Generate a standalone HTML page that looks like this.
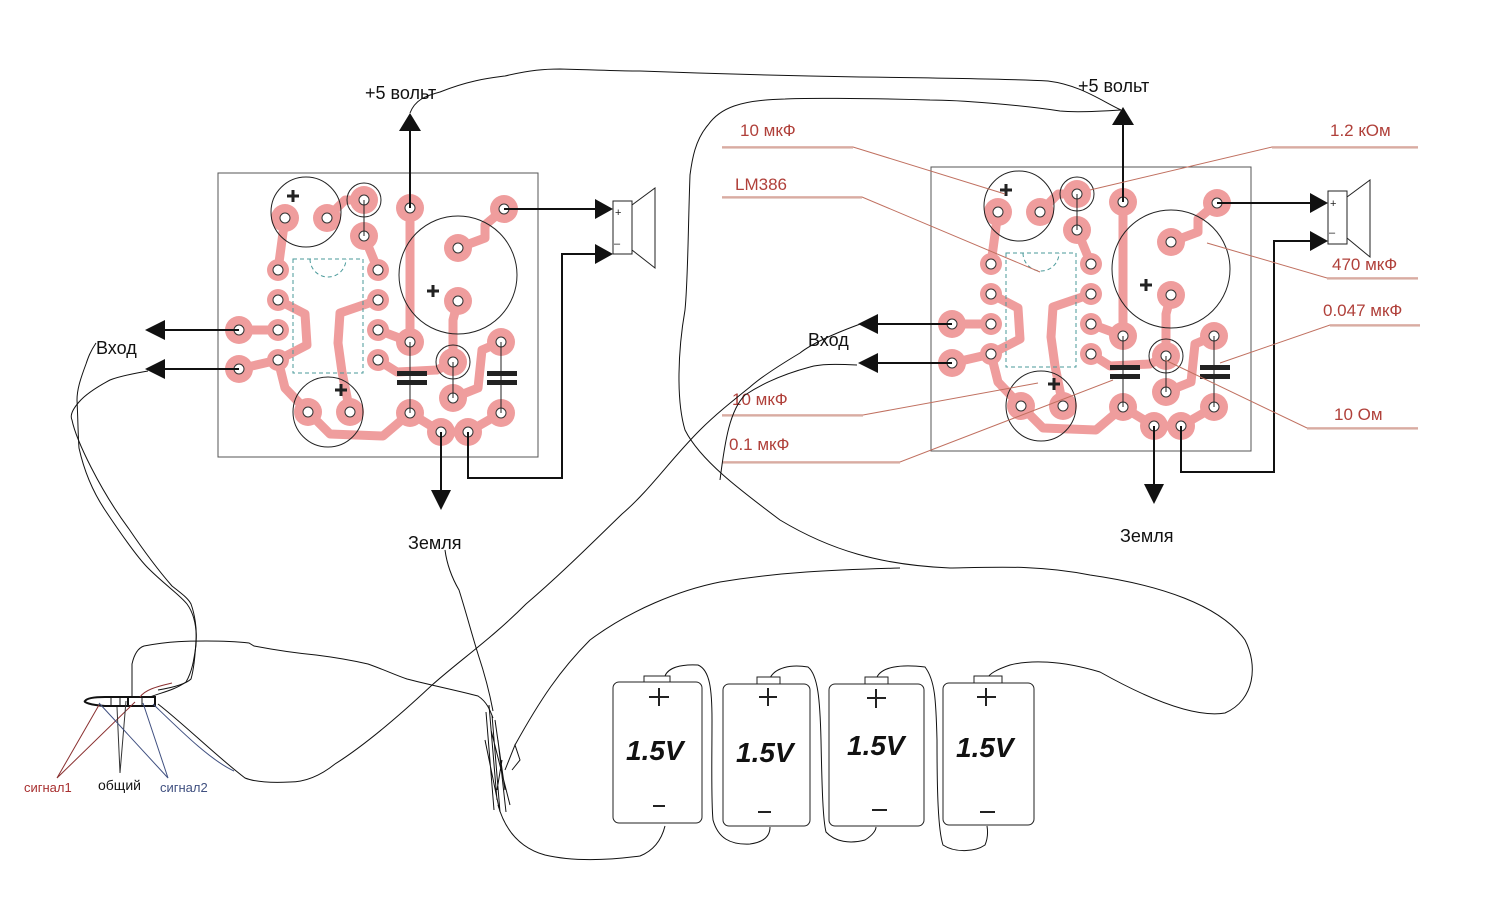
<!DOCTYPE html>
<html><head><meta charset="utf-8"><style>
html,body{margin:0;padding:0;background:#fff;}
svg{display:block;}
text{font-family:"Liberation Sans","DejaVu Sans",sans-serif;}
</style></head><body>
<svg width="1500" height="914" viewBox="0 0 1500 914" xmlns="http://www.w3.org/2000/svg">
<defs>
<g id="board">
  <rect x="218" y="173" width="320" height="284" fill="none" stroke="#555" stroke-width="1"/>
  <g fill="none" stroke="#ef9d9d" stroke-width="9" stroke-linejoin="round" stroke-linecap="round">
    <polyline points="285,218 278,270"/>
    <polyline points="327,218 345,200 364,200"/>
    <polyline points="364,236 378,270"/>
    <polyline points="410,208 410,342"/>
    <polyline points="504,209 485,225 485,238 458,248"/>
    <polyline points="458,301 453,320 453,362"/>
    <polyline points="278,300 305,314 307,345 278,360"/>
    <polyline points="239,330 278,330"/>
    <polyline points="239,369 278,360"/>
    <polyline points="278,360 285,388 308,412"/>
    <polyline points="378,300 340,313 338,343 342,372 350,412"/>
    <polyline points="378,330 410,342"/>
    <polyline points="378,360 397,372 437,370 453,362"/>
    <polyline points="453,398 478,388 482,350 501,342"/>
    <polyline points="308,412 330,434 383,436 410,413"/>
    <polyline points="410,413 441,432 468,432 501,413"/>
  </g>
  <g fill="#ef9d9d">
    <circle cx="285" cy="218" r="14"/><circle cx="327" cy="218" r="14"/>
    <circle cx="364" cy="200" r="14"/><circle cx="364" cy="236" r="14"/>
    <circle cx="410" cy="208" r="14"/><circle cx="504" cy="209" r="14"/>
    <circle cx="458" cy="248" r="14"/><circle cx="458" cy="301" r="14"/>
    <circle cx="278" cy="270" r="11"/><circle cx="378" cy="270" r="11"/>
    <circle cx="278" cy="300" r="11"/><circle cx="378" cy="300" r="11"/>
    <circle cx="278" cy="330" r="11"/><circle cx="378" cy="330" r="11"/>
    <circle cx="278" cy="360" r="11"/><circle cx="378" cy="360" r="11"/>
    <circle cx="239" cy="330" r="14"/><circle cx="239" cy="369" r="14"/>
    <circle cx="410" cy="342" r="14"/><circle cx="453" cy="362" r="14"/>
    <circle cx="453" cy="398" r="14"/><circle cx="501" cy="342" r="14"/>
    <circle cx="501" cy="413" r="14"/><circle cx="410" cy="413" r="14"/>
    <circle cx="441" cy="432" r="14"/><circle cx="468" cy="432" r="14"/>
    <circle cx="308" cy="412" r="14"/><circle cx="350" cy="412" r="14"/>
  </g>
  <g fill="#fff" stroke="#333" stroke-width="1">
    <circle cx="285" cy="218" r="5"/><circle cx="327" cy="218" r="5"/>
    <circle cx="364" cy="200" r="5"/><circle cx="364" cy="236" r="5"/>
    <circle cx="410" cy="208" r="5"/><circle cx="504" cy="209" r="5"/>
    <circle cx="458" cy="248" r="5"/><circle cx="458" cy="301" r="5"/>
    <circle cx="278" cy="270" r="5"/><circle cx="378" cy="270" r="5"/>
    <circle cx="278" cy="300" r="5"/><circle cx="378" cy="300" r="5"/>
    <circle cx="278" cy="330" r="5"/><circle cx="378" cy="330" r="5"/>
    <circle cx="278" cy="360" r="5"/><circle cx="378" cy="360" r="5"/>
    <circle cx="239" cy="330" r="5"/><circle cx="239" cy="369" r="5"/>
    <circle cx="410" cy="342" r="5"/><circle cx="453" cy="362" r="5"/>
    <circle cx="453" cy="398" r="5"/><circle cx="501" cy="342" r="5"/>
    <circle cx="501" cy="413" r="5"/><circle cx="410" cy="413" r="5"/>
    <circle cx="441" cy="432" r="5"/><circle cx="468" cy="432" r="5"/>
    <circle cx="308" cy="412" r="5"/><circle cx="350" cy="412" r="5"/>
  </g>
  <g fill="none" stroke="#222" stroke-width="1">
    <circle cx="306" cy="212" r="35"/>
    <circle cx="364" cy="200" r="17"/>
    <circle cx="458" cy="275" r="59"/>
    <circle cx="453" cy="362" r="17"/>
    <circle cx="328" cy="412" r="35"/>
    <line x1="364" y1="200" x2="364" y2="236"/>
    <line x1="410" y1="342" x2="410" y2="413"/>
    <line x1="453" y1="362" x2="453" y2="398"/>
    <line x1="501" y1="342" x2="501" y2="413"/>
  </g>
  <rect x="293" y="259" width="70" height="114" fill="none" stroke="#4a9a9a" stroke-width="1" stroke-dasharray="4,3"/>
  <path d="M310,259 A18,18 0 0 0 346,259" fill="none" stroke="#4a9a9a" stroke-width="1" stroke-dasharray="4,3"/>
  <g fill="#222">
    <rect x="397" y="371" width="30" height="5"/><rect x="397" y="380" width="30" height="5"/>
    <rect x="487" y="371" width="30" height="5"/><rect x="487" y="380" width="30" height="5"/>
  </g>
  <g stroke="#222" stroke-width="3">
    <line x1="287" y1="196" x2="299" y2="196"/><line x1="293" y1="190" x2="293" y2="202"/>
    <line x1="427" y1="291" x2="439" y2="291"/><line x1="433" y1="285" x2="433" y2="297"/>
    <line x1="335" y1="390" x2="347" y2="390"/><line x1="341" y1="384" x2="341" y2="396"/>
  </g>
  <line x1="410" y1="208" x2="410" y2="128" stroke="#111" stroke-width="2"/>
  <polygon points="410,113 399,131 421,131" fill="#111"/>
  <line x1="441" y1="432" x2="441" y2="495" stroke="#111" stroke-width="2"/>
  <polygon points="441,510 431,490 451,490" fill="#111"/>
  <line x1="239" y1="330" x2="160" y2="330" stroke="#111" stroke-width="2"/>
  <polygon points="145,330 165,320 165,340" fill="#111"/>
  <line x1="239" y1="369" x2="160" y2="369" stroke="#111" stroke-width="2"/>
  <polygon points="145,369 165,359 165,379" fill="#111"/>
</g>
</defs>

<use href="#board"/>
<use href="#board" transform="translate(713,-6)"/>

<g stroke="#111" stroke-width="2" fill="none">
  <line x1="504" y1="209" x2="598" y2="209"/>
  <polyline points="468,432 468,478 562,478 562,254 598,254"/>
  <line x1="1217" y1="203" x2="1312" y2="203"/>
  <polyline points="1181,426 1181,472 1274,472 1274,241 1312,241"/>
</g>
<g fill="#111">
  <polygon points="613,209 595,199 595,219"/>
  <polygon points="613,254 595,244 595,264"/>
  <polygon points="1328,203 1310,193 1310,213"/>
  <polygon points="1328,241 1310,231 1310,251"/>
</g>
<g fill="#fff" stroke="#222" stroke-width="1">
  <rect x="613" y="201" width="19" height="53"/>
  <polyline points="632,205 655,188 655,268 632,250" fill="none"/>
  <rect x="1328" y="191" width="19" height="53"/>
  <polyline points="1347,197 1370,180 1370,257 1347,238" fill="none"/>
</g>
<g font-size="11" fill="#222">
  <text x="615" y="216">+</text><text x="614" y="247">–</text>
  <text x="1330" y="207">+</text><text x="1329" y="236">–</text>
</g>

<g font-size="18" fill="#111">
  <text x="365" y="99">+5 вольт</text>
  <text x="1078" y="92">+5 вольт</text>
  <text x="96" y="354">Вход</text>
  <text x="808" y="346">Вход</text>
  <text x="408" y="549">Земля</text>
  <text x="1120" y="542">Земля</text>
</g>

<g font-size="17" fill="#b0403a">
  <text x="740" y="136">10 мкФ</text>
  <text x="735" y="190">LM386</text>
  <text x="732" y="405">10 мкФ</text>
  <text x="729" y="450">0.1 мкФ</text>
  <text x="1330" y="136">1.2 кОм</text>
  <text x="1332" y="270">470 мкФ</text>
  <text x="1323" y="316">0.047 мкФ</text>
  <text x="1334" y="420">10 Ом</text>
</g>
<g fill="none" stroke="#c07060" stroke-width="1">
  <polyline points="722,147 853,147 1005,194"/>
  <polyline points="722,197 862,197 1040,272"/>
  <polyline points="722,415 863,415 1038,383"/>
  <polyline points="722,462 900,462 1113,380"/>
  <polyline points="1418,147 1272,147 1090,190"/>
  <polyline points="1418,278 1327,278 1207,243"/>
  <polyline points="1420,325 1330,325 1220,363"/>
  <polyline points="1418,428 1307,428 1165,360"/>
</g>
<g stroke="#e0c0b8" stroke-width="1.5">
  <line x1="722" y1="148" x2="853" y2="148"/><line x1="722" y1="198" x2="862" y2="198"/>
  <line x1="722" y1="416" x2="863" y2="416"/><line x1="722" y1="463" x2="900" y2="463"/>
  <line x1="1272" y1="148" x2="1418" y2="148"/><line x1="1327" y1="279" x2="1418" y2="279"/>
  <line x1="1330" y1="326" x2="1420" y2="326"/><line x1="1307" y1="429" x2="1418" y2="429"/>
</g>

<g fill="none" stroke="#111" stroke-width="1">
  <path d="M410,113 C415,100 425,96 440,92 C470,80 490,78 505,76 C530,70 545,69 560,69 C600,70 620,71 640,71 C720,74 800,76 860,77 C950,78 1010,79 1048,81 C1080,85 1100,100 1121,110"/>
  <path d="M1121,110 C1090,112 1070,112 1060,111 C1020,105 960,100 930,100 C860,98 800,98 785,99 C740,100 720,108 708,125 C695,140 692,160 690,175 C688,230 688,280 685,310 C678,350 676,400 685,430 C700,460 740,490 780,520 C830,550 880,565 950,568 C1000,567 1040,565 1090,575 C1160,585 1220,605 1245,640 C1258,665 1255,700 1225,713 C1195,718 1150,700 1100,672 C1060,660 1030,660 1010,665 C995,670 990,674 987,678"/>
  <path d="M863,323 C830,335 810,345 800,353 C780,365 760,378 750,387 C730,403 715,415 700,430 C670,460 650,490 622,514 C590,545 560,575 526,604 C490,640 460,660 431,686 C400,715 365,745 335,764 C320,776 305,782 290,782 C270,783 255,782 245,778 C215,755 185,725 158,704"/>
  <path d="M857,365 C835,364 820,364 810,367 C780,375 760,385 745,395 C730,410 725,440 720,480"/>
  <path d="M148,371 C125,375 115,378 110,380 C95,388 85,395 79,402 C72,410 70,416 72,420 C76,440 100,490 129,529 C150,560 165,578 172,586 C182,594 188,598 191,604 C195,615 197,630 196,640 C195,660 193,672 191,679 C185,685 170,688 158,690"/>
  <path d="M96,343 C90,352 88,358 86,364 C80,380 77,390 77,400 C78,420 78,435 79,448 C85,475 95,495 105,510 C125,540 140,560 148,568 C165,585 180,595 187,604 C195,615 197,630 196,645 C194,660 192,672 186,682 C175,690 160,693 150,697"/>
  <path d="M132,697 C132,685 132,675 132,664 C134,655 138,648 144,646 C170,641 190,641 206,641 C225,641 240,642 249,643 L254,646 C275,650 295,653 316,655 C340,658 355,661 368,664 C385,670 395,675 407,679 C430,685 455,690 478,696 C487,702 490,710 493,718"/>
  <path d="M445,550 C447,565 452,578 459,590 C466,612 472,635 478,654 C485,675 490,695 493,711"/>
  <path d="M515,745 C540,700 560,670 590,640 C630,610 680,590 720,582 C780,572 830,570 900,568"/>
  <path d="M486,712 L494,810 M489,705 L497,800 M492,715 L500,812 M495,720 L505,790 M491,730 L510,805 M498,740 L506,812 M502,760 L497,790 M505,770 L515,745 L520,760 L512,770 M485,740 L499,808"/>
  <path d="M498,805 C505,830 520,848 545,855 C575,862 610,860 640,856 C655,850 662,838 665,826"/>
  <path d="M665,676 C668,668 680,664 698,665 C710,670 712,690 712,720 C712,760 711,800 713,820 C718,838 730,845 750,844 C765,842 770,835 770,827"/>
  <path d="M770,678 C775,668 790,664 808,667 C818,675 820,700 821,740 C822,790 823,820 826,832 C835,842 850,844 865,840 C873,835 876,830 876,827"/>
  <path d="M877,677 C882,667 900,664 925,667 C935,680 936,700 937,740 C937,790 938,830 943,845 C955,853 975,852 985,845 C988,838 988,832 987,826"/>
</g>

<g fill="#fff" stroke="#222" stroke-width="1">
  <rect x="613" y="682" width="89" height="141" rx="6"/>
  <rect x="644" y="676" width="26" height="6"/>
  <rect x="723" y="684" width="87" height="142" rx="6"/>
  <rect x="757" y="677" width="23" height="7"/>
  <rect x="829" y="684" width="95" height="142" rx="6"/>
  <rect x="865" y="677" width="23" height="7"/>
  <rect x="943" y="683" width="91" height="142" rx="6"/>
  <rect x="974" y="676" width="28" height="7"/>
</g>
<g stroke="#222" stroke-width="2">
  <line x1="649" y1="697" x2="669" y2="697"/><line x1="659" y1="688" x2="659" y2="706"/>
  <line x1="653" y1="806" x2="665" y2="806"/>
  <line x1="759" y1="697" x2="777" y2="697"/><line x1="768" y1="688" x2="768" y2="706"/>
  <line x1="758" y1="812" x2="771" y2="812"/>
  <line x1="867" y1="698" x2="886" y2="698"/><line x1="876" y1="689" x2="876" y2="708"/>
  <line x1="872" y1="810" x2="887" y2="810"/>
  <line x1="977" y1="697" x2="996" y2="697"/><line x1="986" y1="688" x2="986" y2="706"/>
  <line x1="980" y1="812" x2="995" y2="812"/>
</g>
<g font-size="28" font-weight="bold" font-style="italic" fill="#111">
  <text x="626" y="760">1.5V</text>
  <text x="736" y="762">1.5V</text>
  <text x="847" y="755">1.5V</text>
  <text x="956" y="757">1.5V</text>
</g>

<g fill="none" stroke="#111" stroke-width="2">
  <path d="M105,697 L155,697 L155,706 L105,706 C90,705 83,702 85,701 C87,698 95,697 105,697 Z"/>
  <line x1="111" y1="697" x2="111" y2="706" stroke-width="1"/>
  <line x1="120" y1="697" x2="120" y2="706" stroke-width="1"/>
  <line x1="128" y1="697" x2="128" y2="706"/>
  <line x1="142" y1="697" x2="142" y2="706" stroke-width="1"/>
</g>
<g fill="none" stroke-width="1">
  <polyline points="99,705 57,778 135,702" stroke="#8a3030"/>
  <polyline points="117,707 120,773 126,701" stroke="#333"/>
  <polyline points="143,703 168,778 99,703" stroke="#405080"/>
  <path d="M153,704 C180,730 210,760 234,771" stroke="#405080"/>
  <path d="M140,697 C145,690 155,687 172,683" stroke="#8a3030"/>
</g>
<text x="24" y="792" font-size="13" fill="#a83030">сигнал1</text>
<text x="98" y="790" font-size="14" fill="#111">общий</text>
<text x="160" y="792" font-size="13" fill="#405080">сигнал2</text>
</svg>
</body></html>
